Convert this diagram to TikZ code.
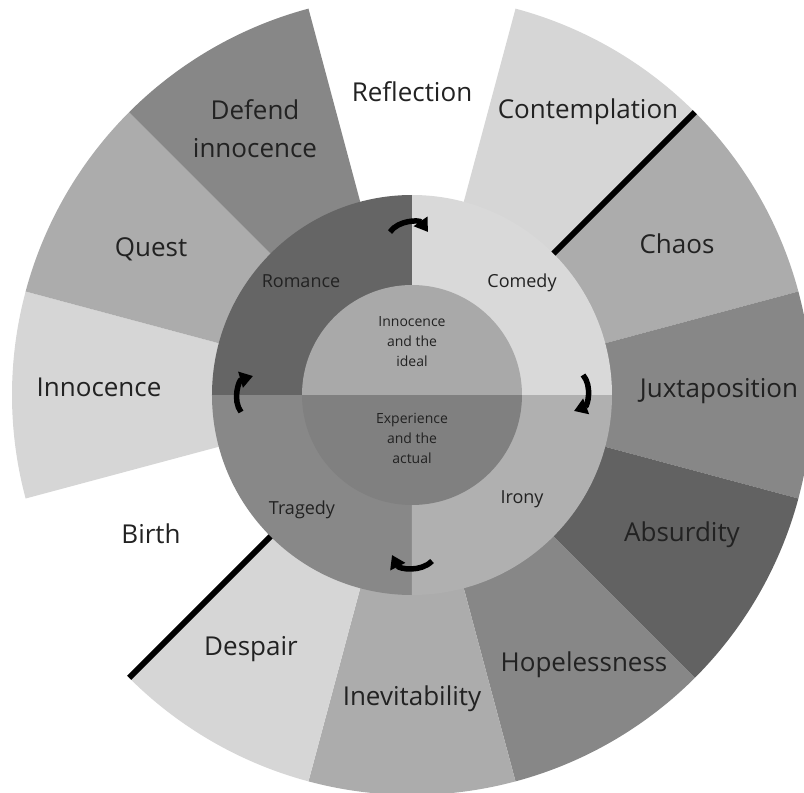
\documentclass[tikz,border=0pt]{standalone}
\usepackage{fontspec}
\setmainfont{Open Sans}
\usepackage{tikz}
\usetikzlibrary{arrows.meta}
\tikzset{
  >=Stealth,
  every node/.append style={inner sep=0pt},
}

\begin{document}
\begin{tikzpicture}[
    x=1pt, y=1pt,
    outer/.style={
        font=\fontsize{26}{38}\selectfont,
        text=ink,
        anchor=base,
        align=center
    },
    ring/.style={
        font=\fontsize{18}{22}\selectfont,
        text=ink,
        anchor=base
    },
    core/.style={
        font=\fontsize{14}{20}\selectfont,
        text=ink,
        align=center
    },
    turn/.style={
        -{Triangle[width=16pt,length=13pt]},
        line width=5.5pt,
        draw=black
    },
    divider/.style={
        line width=6pt,
        draw=black
    }
]
% Colour definitions
\definecolor{ink}{RGB}{34,34,34}
\definecolor{palegrey}{RGB}{214,214,214}
\definecolor{softgrey}{RGB}{172,172,172}
\definecolor{midgrey}{RGB}{135,135,135}
\definecolor{deepgrey}{RGB}{98,98,98}
\definecolor{romancegrey}{RGB}{101,101,101}
\definecolor{comedygrey}{RGB}{217,217,217}
\definecolor{ironygrey}{RGB}{176,176,176}
\definecolor{tragedygrey}{RGB}{136,136,136}
\definecolor{idealgrey}{RGB}{169,169,169}
\definecolor{actualgrey}{RGB}{128,128,128}

\useasboundingbox (-412,-398) rectangle (392,395);

% Outer sectors
\fill[palegrey] (0,0) -- (45:400) arc[start angle=45, end angle=75, radius=400] -- cycle;
\fill[softgrey] (0,0) -- (15:400) arc[start angle=15, end angle=45, radius=400] -- cycle;
\fill[midgrey] (0,0) -- (-15:400) arc[start angle=-15, end angle=15, radius=400] -- cycle;
\fill[deepgrey] (0,0) -- (-45:400) arc[start angle=-45, end angle=-15, radius=400] -- cycle;
\fill[midgrey] (0,0) -- (-75:400) arc[start angle=-75, end angle=-45, radius=400] -- cycle;
\fill[softgrey] (0,0) -- (-105:400) arc[start angle=-105, end angle=-75, radius=400] -- cycle;
\fill[palegrey] (0,0) -- (-135:400) arc[start angle=-135, end angle=-105, radius=400] -- cycle;
\fill[palegrey] (0,0) -- (165:400) arc[start angle=165, end angle=195, radius=400] -- cycle;
\fill[softgrey] (0,0) -- (135:400) arc[start angle=135, end angle=165, radius=400] -- cycle;
\fill[midgrey] (0,0) -- (105:400) arc[start angle=105, end angle=135, radius=400] -- cycle;

% Middle ring
\fill[comedygrey] (0,0) -- (0:200) arc[start angle=0, end angle=90, radius=200] -- cycle;
\fill[romancegrey] (0,0) -- (90:200) arc[start angle=90, end angle=180, radius=200] -- cycle;
\fill[tragedygrey] (0,0) -- (180:200) arc[start angle=180, end angle=270, radius=200] -- cycle;
\fill[ironygrey] (0,0) -- (270:200) arc[start angle=270, end angle=360, radius=200] -- cycle;

% Core
\fill[idealgrey] (0:110) arc[start angle=0, end angle=180, radius=110] -- cycle;
\fill[actualgrey] (180:110) arc[start angle=180, end angle=360, radius=110] -- cycle;

% Dividers
\draw[divider] (45:200) -- (45:400);
\draw[divider] (-135:200) -- (-135:400);

% Nodes
\node[outer] (contemplation) at (176,276) {Contemplation};
\node[outer] (reflection) at (0,293) {Reflection};
\node[outer, anchor=center] (defend) at (-157,266) {Defend\\innocence};
\node[outer] (quest) at (-261,139) {Quest};
\node[outer] (innocence) at (-313,-1) {Innocence};
\node[outer] (birth) at (-261,-148) {Birth};
\node[outer] (despair) at (-161,-260) {Despair};
\node[outer] (inevitability) at (0,-310) {Inevitability};
\node[outer] (hopelessness) at (172,-276) {Hopelessness};
\node[outer] (absurdity) at (270,-146) {Absurdity};
\node[outer] (juxtaposition) at (307,-2) {Juxtaposition};
\node[outer] (chaos) at (265,141) {Chaos};

\node[ring] (romance) at (-111,107) {Romance};
\node[ring] (comedy) at (110,107) {Comedy};
\node[ring] (irony) at (110,-108) {Irony};
\node[ring] (tragedy) at (-110,-119) {Tragedy};

\node[core] (ideal) at (0,53) {Innocence\\and the\\ideal};
\node[core] (actual) at (0,-43) {Experience\\and the\\actual};

% Arrow ends
\coordinate (topA) at (-22,163);
\coordinate (topB) at (16,163);
\coordinate (rightA) at (171,20);
\coordinate (rightB) at (162,-16);
\coordinate (bottomA) at (20,-166);
\coordinate (bottomB) at (-20,-160);
\coordinate (leftA) at (-171,-17);
\coordinate (leftB) at (-159,19);

% Arrows
\draw[turn] (topA) to[bend left=55] (topB);
\draw[turn] (rightA) to[bend left=55] (rightB);
\draw[turn] (bottomA) to[bend left=55] (bottomB);
\draw[turn] (leftA) to[bend left=55] (leftB);

\end{tikzpicture}
\end{document}
